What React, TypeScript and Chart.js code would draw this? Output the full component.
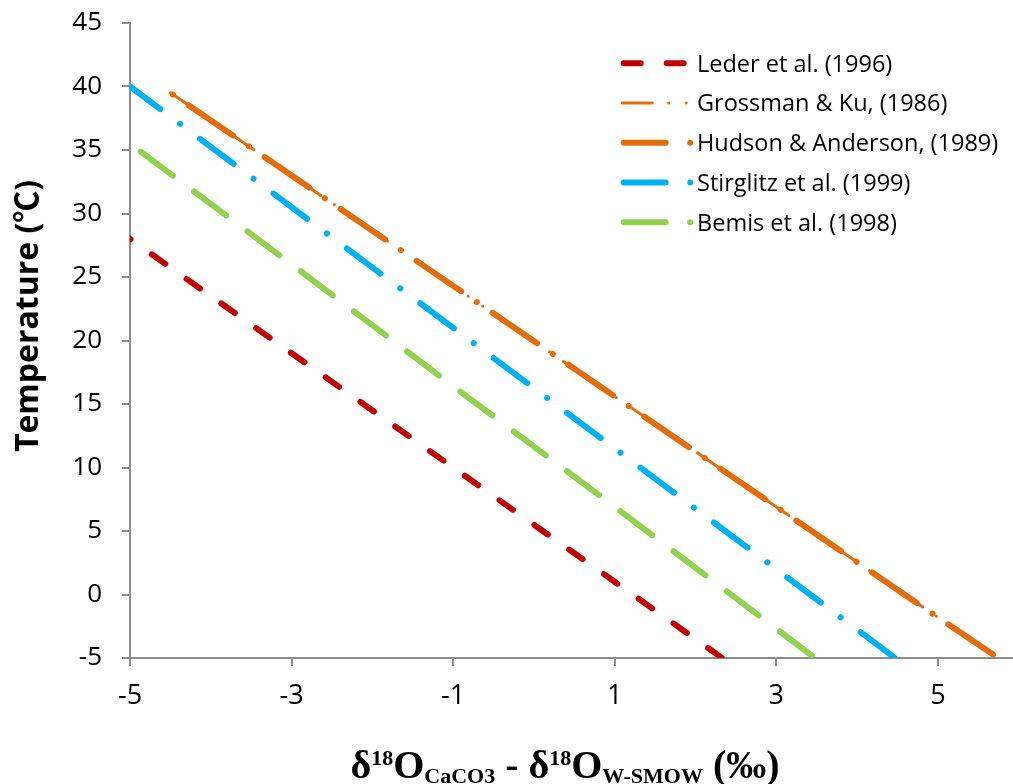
import React, { useEffect, useRef } from "react";
import { Chart, registerables } from "chart.js";

Chart.register(...registerables);

// ---- data ----
const xTicks = [-5, -3, -1, 1, 3, 5];
const yTicks = [-5, 0, 5, 10, 15, 20, 25, 30, 35, 40, 45];

const seriesNames = [
  "Leder et al. (1996)",
  "Grossman & Ku, (1986)",
  "Hudson & Anderson, (1989)",
  "Stirglitz et al. (1999)",
  "Bemis et al. (1998)",
];

const lederX = [-5, -3, -1, 1, 2.33];
const lederY = [28, 19, 10, 1, -5];

const grossmanX = [-4.5, -3, -1, 1, 3, 5, 5.75];
const grossmanY = [39.5, 33, 24.3, 15.6, 6.9, -1.8, -5];

const hudsonX = [-4.5, -3, -1, 1, 3, 5, 5.75];
const hudsonY = [39.5, 33, 24.3, 15.6, 6.9, -1.8, -5];

const stirglitzX = [-5, -3, -1, 1, 3, 4.47];
const stirglitzY = [40, 30.5, 21, 11.5, 2, -5];

const bemisX = [-5, -3, -1, 1, 3, 3.48];
const bemisY = [35.5, 26, 16.4, 6.9, -2.7, -5];

// ---- styles ----
const RED = "#C00000";
const ORANGE = "#E46C0A";
const BLUE = "#00B0F0";
const GREEN = "#92D050";
const AXIS = "#8C8C8C";

const seriesStyles = [
  { color: RED, width: 6, dash: [16.5, 26.1], offset: 15.9, legendDash: [17, 26] },
  { color: ORANGE, width: 3, dash: [30, 16.5, 0.01, 17.5, 0.01, 17], offset: 10, legendDash: [30, 16.5, 0.01, 17.5, 0.01, 17] },
  { color: ORANGE, width: 6, dash: [54, 19, 0.01, 19], offset: 70, legendDash: [42, 24.5, 0.01, 24.5] },
  { color: BLUE, width: 6, dash: [42, 24.7, 0.01, 24.9], offset: 4.2, legendDash: [42, 24.5, 0.01, 24.5] },
  { color: GREEN, width: 6, dash: [40, 26.6], offset: 53.2, legendDash: [42, 24.5, 0.01, 24.5] },
];

const seriesData = [
  [lederX, lederY],
  [grossmanX, grossmanY],
  [hudsonX, hudsonY],
  [stirglitzX, stirglitzY],
  [bemisX, bemisY],
];

const overlayPlugin = {
  id: "overlay",
  afterDraw(chart: any) {
    const ctx: CanvasRenderingContext2D = chart.ctx;
    ctx.save();
    // legend inside the plot area
    const legendY0 = 63.3;
    const legendStep = 39.75;
    seriesNames.forEach((name, i) => {
      const st = seriesStyles[i];
      const y = legendY0 + i * legendStep;
      ctx.beginPath();
      ctx.setLineDash(st.legendDash);
      ctx.lineDashOffset = 0;
      ctx.lineCap = "round";
      ctx.lineWidth = st.width;
      ctx.strokeStyle = st.color;
      const x0 = 620.7 + st.width / 2;
      ctx.moveTo(x0, y);
      ctx.lineTo(690.4, y);
      ctx.stroke();
      ctx.setLineDash([]);
      ctx.fillStyle = "#000";
      ctx.font = "23.5px 'Open Sans'";
      ctx.textAlign = "left";
      ctx.textBaseline = "alphabetic";
      ctx.fillText(name, 697, y + 8.3);
    });

    // y axis title
    ctx.save();
    ctx.translate(38, 316);
    ctx.rotate(-Math.PI / 2);
    ctx.fillStyle = "#000";
    ctx.font = "bold 32px 'Open Sans', 'Noto Sans CJK SC'";
    ctx.textAlign = "center";
    ctx.textBaseline = "alphabetic";
    ctx.fillText("Temperature (\u2103)", 0, 0);
    ctx.restore();

    // x axis title with super/subscripts
    const mainFont = "bold 40px 'Liberation Serif'";
    const smallFont = "bold 22px 'Liberation Serif'";
    const pieces: { t: string; k: "m" | "sup" | "sub" }[] = [
      { t: "\u03B4", k: "m" },
      { t: "18", k: "sup" },
      { t: "O", k: "m" },
      { t: "CaCO3", k: "sub" },
      { t: " - ", k: "m" },
      { t: "\u03B4", k: "m" },
      { t: "18", k: "sup" },
      { t: "O", k: "m" },
      { t: "W-SMOW", k: "sub" },
      { t: " (\u2030)", k: "m" },
    ];
    let total = 0;
    const widths = pieces.map((p) => {
      ctx.font = p.k === "m" ? mainFont : smallFont;
      const w = ctx.measureText(p.t).width;
      total += w;
      return w;
    });
    let x = 565 - total / 2;
    ctx.textAlign = "left";
    ctx.fillStyle = "#000";
    pieces.forEach((p, i) => {
      ctx.font = p.k === "m" ? mainFont : smallFont;
      const by = p.k === "m" ? 778 : p.k === "sup" ? 765 : 783;
      ctx.fillText(p.t, x, by);
      x += widths[i];
    });
    ctx.restore();
  },
};

export default function App() {
  const canvasRef = useRef<HTMLCanvasElement | null>(null);

  useEffect(() => {
    const canvas = canvasRef.current;
    if (!canvas) return;
    const datasets = seriesNames.map((name, i) => {
      const [xs, ys] = seriesData[i];
      const st = seriesStyles[i];
      return {
        label: name,
        data: xs.map((xv, j) => ({ x: xv, y: ys[j] })),
        borderColor: st.color,
        backgroundColor: st.color,
        borderWidth: st.width,
        borderDash: st.dash,
        borderDashOffset: st.offset,
        borderCapStyle: "round" as const,
        borderJoinStyle: "round" as const,
        showLine: true,
        pointRadius: 0,
        pointHoverRadius: 0,
        tension: 0,
        fill: false,
      };
    });

    const chart = new Chart(canvas, {
      type: "scatter",
      data: { datasets },
      options: {
        responsive: false,
        animation: false,
        events: [],
        layout: { padding: { top: 23, right: 0, bottom: 0, left: 0 } },
        plugins: {
          legend: { display: false },
          tooltip: { enabled: false },
          title: { display: false },
        },
        scales: {
          x: {
            type: "linear",
            min: -5,
            max: 5.93,
            afterBuildTicks: (s: any) => {
              s.ticks = xTicks.map((v) => ({ value: v }));
            },
            afterFit: (s: any) => {
              s.height = 126;
            },
            grid: {
              drawOnChartArea: false,
              drawTicks: true,
              tickLength: 8,
              color: AXIS,
              lineWidth: 2,
            },
            border: { display: true, color: AXIS, width: 2 },
            ticks: {
              font: { family: "'Open Sans'", size: 27 },
              color: "#000",
              padding: 14,
              maxRotation: 0,
              autoSkip: false,
            },
          },
          y: {
            type: "linear",
            min: -5,
            max: 45,
            afterBuildTicks: (s: any) => {
              s.ticks = yTicks.map((v) => ({ value: v }));
            },
            afterFit: (s: any) => {
              s.width = 130;
            },
            grid: {
              drawOnChartArea: false,
              drawTicks: true,
              tickLength: 8,
              color: AXIS,
              lineWidth: 2,
            },
            border: { display: true, color: AXIS, width: 2 },
            ticks: {
              font: { family: "'Open Sans'", size: 26, lineHeight: 0.2 },
              color: "#000",
              padding: 20,
              autoSkip: false,
            },
          },
        },
      },
      plugins: [overlayPlugin],
    });
    return () => chart.destroy();
  }, []);

  return (
    <div style={{ position: "absolute", left: 0, top: 0, width: 1013, height: 784, background: "#fff" }}>
      <canvas ref={canvasRef} width={1013} height={784} style={{ display: "block", width: 1013, height: 784 }} />
    </div>
  );
}
